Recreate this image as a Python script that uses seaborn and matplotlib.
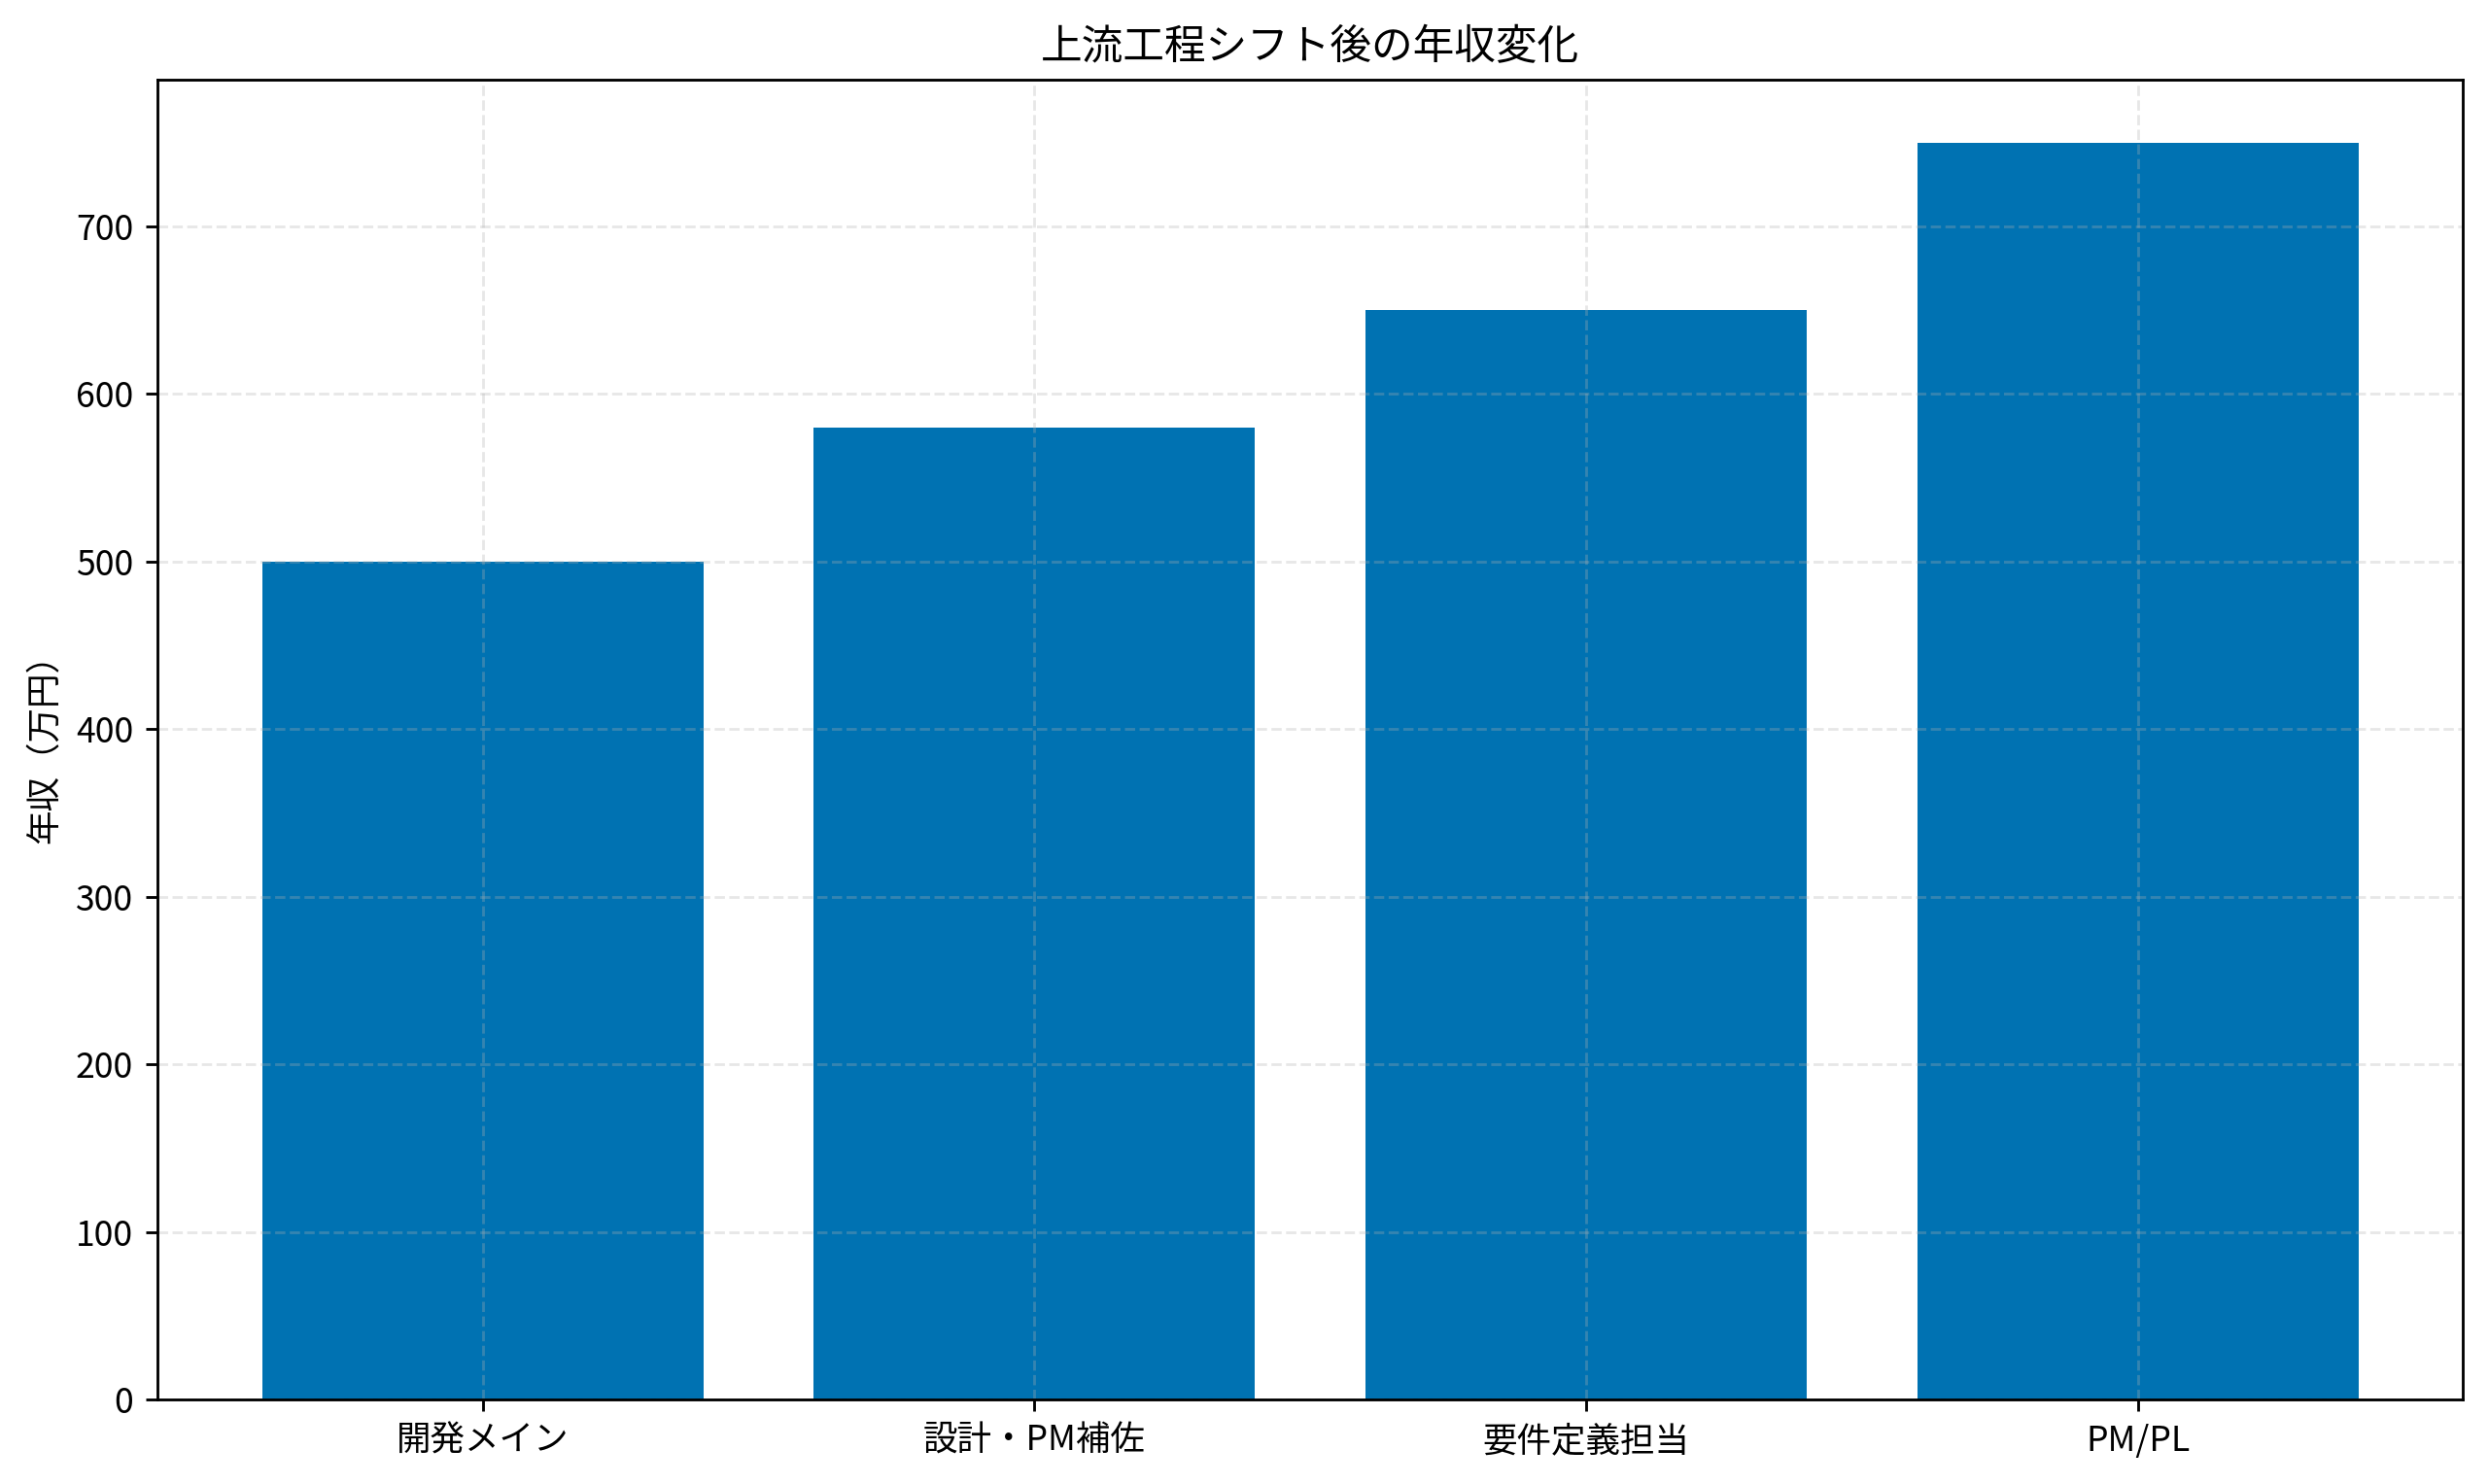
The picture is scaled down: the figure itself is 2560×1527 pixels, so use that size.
import matplotlib
matplotlib.use('Agg')
import matplotlib.pyplot as plt
import seaborn as sns
import pandas as pd

roles = ['開発メイン', '設計・PM補佐', '要件定義担当', 'PM/PL']
salary = [500, 580, 650, 750]

plt.rcParams['font.family'] = ['Noto Sans CJK JP', 'DejaVu Sans']

df = pd.DataFrame({'role': roles, 'salary': salary})

fig, ax = plt.subplots(figsize=(10, 5.965), dpi=256)
sns.barplot(data=df, x='role', y='salary', color='#0072B2', saturation=1,
            width=0.8, ax=ax, zorder=1)
ax.set_xlim(-0.59, 3.59)
ax.set_ylim(0, 787.5)
ax.grid(True, linestyle='--', alpha=0.3)
ax.set_axisbelow('line')
ax.set_title('上流工程シフト後の年収変化', fontsize=12)
ax.set_xlabel('')
ax.set_ylabel('年収（万円）')
fig.subplots_adjust(left=0.0633, right=0.990, top=0.9463, bottom=0.057)
fig.savefig('out.png', dpi=256)
